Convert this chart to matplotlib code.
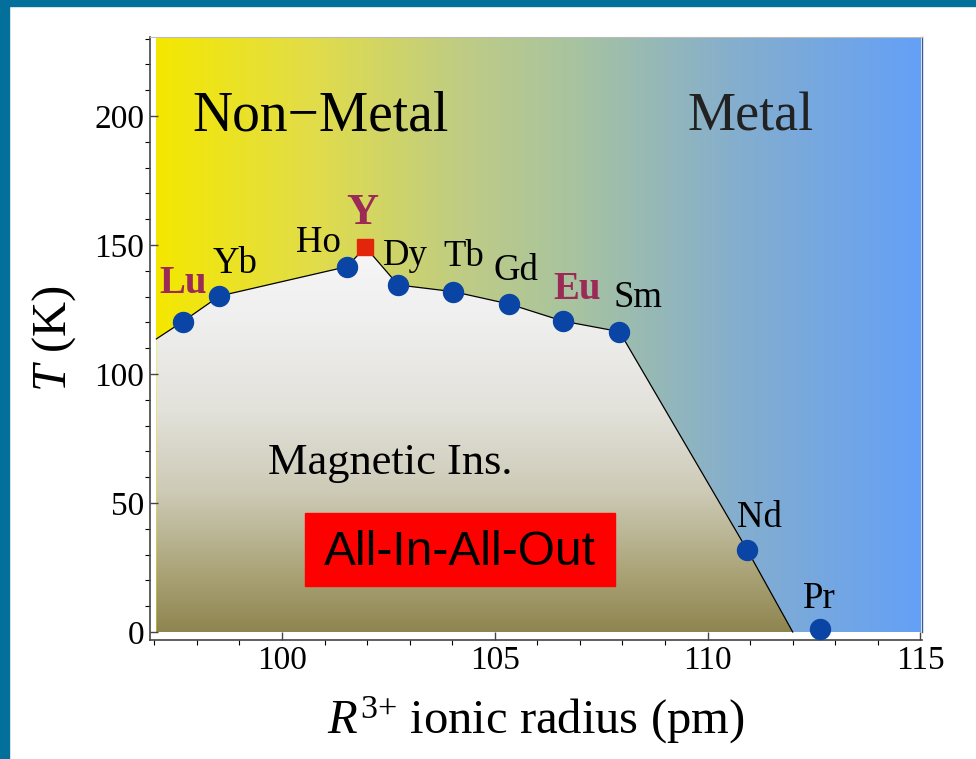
import numpy as np
import matplotlib.pyplot as plt
from matplotlib.colors import LinearSegmentedColormap
from matplotlib.patches import Polygon, Rectangle

plt.rcParams['font.family'] = ['Liberation Serif', 'DejaVu Serif']
plt.rcParams['mathtext.fontset'] = 'custom'
plt.rcParams['mathtext.rm'] = 'Liberation Serif'
plt.rcParams['mathtext.it'] = 'Liberation Serif:italic'

# compounds: ionic radius (pm) and transition temperature (K)
elements = ["Lu", "Yb", "Ho", "Y", "Dy", "Tb", "Gd", "Eu", "Sm", "Nd", "Pr"]
radius = [97.67, 98.53, 101.53, 101.96, 102.73, 104.03, 105.34, 106.60, 107.93, 110.93, 112.63]
temp = [120.3, 130.2, 141.6, 149.2, 134.5, 131.9, 127.1, 120.5, 116.4, 31.8, 1.0]

# phase boundary ends (left edge of panel, T=0 crossing)
boundary_start = (97.05, 113.6)
boundary_end = (112.0, 0.0)
x_right = 115.0
t_top = 230.6

highlight = ["Lu", "Y", "Eu"]
magenta = "#9b2a57"

# label offsets in pixels (dx, dy to baseline)
offsets = {"Lu": (0, 29), "Yb": (16, 23), "Ho": (-29, 15), "Y": (-3, 23),
           "Dy": (7, 20), "Tb": (10, 26), "Gd": (7, 24), "Eu": (14, 22),
           "Sm": (19, 25), "Nd": (12, 23), "Pr": (0, 21)}

fig = plt.figure(figsize=(9.76, 7.59), dpi=100)
fig.patches.append(Rectangle((0, 0), 9 / 976, 1, transform=fig.transFigure,
                             color="#03709c", zorder=0))
fig.patches.append(Rectangle((0, 1 - 6 / 759), 1, 6 / 759, transform=fig.transFigure,
                             color="#03709c", zorder=0))

ax = fig.add_axes([150 / 976, 119 / 759, 771.7 / 976, 603 / 759])

metal_cmap = LinearSegmentedColormap.from_list(
    "metal", [(0, "#f4e800"), (0.2, "#e2dd48"), (0.4, "#bfcc84"),
              (0.55, "#a7c3a0"), (0.75, "#86afcc"), (1.0, "#64a0f6")])
ins_cmap = LinearSegmentedColormap.from_list(
    "ins", [(0, "#8e8550"), (0.15, "#aba478"), (0.35, "#cdcab6"),
            (0.55, "#e2e1da"), (0.8, "#f0f0f0"), (1.0, "#f7f7f9")])

ax.imshow(np.linspace(0, 1, 256).reshape(1, -1), cmap=metal_cmap, aspect="auto",
          origin="lower", extent=[boundary_start[0], x_right, 0, t_top], zorder=0)

bx = [boundary_start[0]] + radius[:10] + [boundary_end[0]]
by = [boundary_start[1]] + temp[:10] + [boundary_end[1]]
poly = Polygon(list(zip(bx, by)) + [(boundary_start[0], 0)], closed=True,
               transform=ax.transData, facecolor="none", edgecolor="none")
ax.add_patch(poly)
im = ax.imshow(np.linspace(0, 1, 256).reshape(-1, 1), cmap=ins_cmap, aspect="auto",
               origin="lower", extent=[boundary_start[0], boundary_end[0], 0, 155], zorder=1)
im.set_clip_path(poly)

ax.plot(bx, by, color="black", lw=0.9, zorder=2)

for el, x, t in zip(elements, radius, temp):
    if el == "Y":
        ax.plot(x, t, "s", color="#e3260b", ms=12, zorder=3)
    else:
        ax.plot(x, t, "o", color="#0a45a6", ms=14.4, zorder=3)
    bold = el in highlight
    size = 32 if el == "Y" else (28 if bold else 26.5)
    ax.annotate(el, (x, t), xytext=offsets[el], textcoords="offset pixels",
                ha="center", va="baseline", fontsize=size,
                fontweight="bold" if bold else "normal",
                color=magenta if bold else "black", zorder=4)

ax.text(100.9, 194.2, "Non\u2212Metal", fontsize=40, ha="center", va="baseline", zorder=4)
ax.text(111.0, 194.2, "Metal", fontsize=39, ha="center", va="baseline", zorder=4, color="#222222")
ax.text(102.55, 61.3, "Magnetic Ins.", fontsize=32, ha="center", va="baseline", zorder=4)

ax.add_patch(Rectangle((100.55, 17.8), 7.28, 28.3, color="#ff0000", zorder=3))
ax.text(104.18, 26.0, "All-In-All-Out", fontsize=34.5, family="Liberation Sans",
        ha="center", va="baseline", zorder=4)

ax.set_xlim(96.9, 115.03)
ax.set_ylim(-3.1, t_top)
ax.set_xticks([100, 105, 110, 115])
ax.set_xticks(np.arange(97, 116, 1), minor=True)
ax.set_yticks([0, 50, 100, 150, 200])
ax.set_yticks(np.arange(0, 231, 10), minor=True)
ax.tick_params(direction="in", labelsize=24, width=1, color="#444444")
ax.tick_params(which="major", length=6, pad=4)
ax.tick_params(which="minor", length=3.5, width=0.8)
ax.tick_params(axis="x", pad=4)

for side in ["left", "bottom"]:
    ax.spines[side].set_color("#444444")
    ax.spines[side].set_linewidth(1.2)
ax.spines["top"].set_color("#bbbbbb")
ax.spines["top"].set_linewidth(0.8)
ax.spines["right"].set_color("#3a5a8a")
ax.spines["right"].set_linewidth(1)
ax.spines["right"].set_bounds(0, t_top)

ax.set_xlabel("$R^{3{+}}$ ionic radius (pm)", fontsize=35)
ax.xaxis.set_label_coords(0.5, -0.09)
ax.set_ylabel("$T$ (K)", fontsize=35)
ax.yaxis.set_label_coords(-0.093, 0.5)

fig.savefig("out.png", dpi=100)
